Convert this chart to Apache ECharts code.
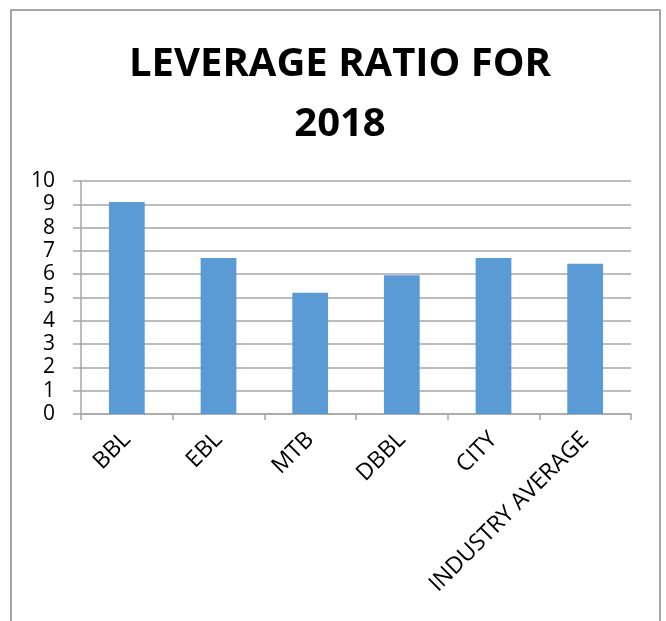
<!DOCTYPE html>
<html>
<head>
<meta charset="utf-8">
<script src="https://cdn.jsdelivr.net/npm/echarts@6/dist/echarts.min.js"></script>
<style>
html,body{margin:0;padding:0;background:#fff;}
#chart{width:666px;height:621px;}
</style>
</head>
<body>
<div id="chart"></div>
<script>
const titleLines = ['LEVERAGE RATIO FOR', '2018'];
const categories = ['BBL', 'EBL', 'MTB', 'DBBL', 'CITY', 'INDUSTRY AVERAGE'];
const values = [9.1, 6.7, 5.2, 5.95, 6.7, 6.45];
const yMin = 0, yMax = 10, yStep = 1;

const chart = echarts.init(document.getElementById('chart'), null, {renderer: 'canvas'});
chart.setOption({
  animation: false,
  backgroundColor: '#ffffff',
  graphic: [{
    type: 'rect',
    shape: {x: 11, y: 10, width: 649, height: 640},
    style: {fill: 'none', stroke: '#a6a6a6', lineWidth: 2},
    silent: true
  }],
  title: {
    text: titleLines.join('\n'),
    left: 335,
    textAlign: 'center',
    top: 30,
    textStyle: {
      fontFamily: 'Open Sans',
      fontWeight: 'bold',
      fontSize: 40,
      color: '#000000',
      lineHeight: 60
    }
  },
  grid: {left: 81, right: 35, top: 181, bottom: 207, containLabel: false},
  xAxis: {
    type: 'category',
    data: categories,
    boundaryGap: true,
    axisLine: {show: true, lineStyle: {color: '#a6a6a6', width: 1.5}},
    axisTick: {show: true, length: 6, alignWithLabel: false, lineStyle: {color: '#a6a6a6', width: 1.5}},
    axisLabel: {
      rotate: 45,
      margin: 22,
      interval: 0,
      fontFamily: 'Open Sans',
      fontSize: 23,
      color: '#000000'
    }
  },
  yAxis: {
    type: 'value',
    min: yMin,
    max: yMax,
    interval: yStep,
    axisLine: {show: true, lineStyle: {color: '#a6a6a6', width: 1.5}},
    axisTick: {show: true, length: 8, lineStyle: {color: '#a6a6a6', width: 1.5}},
    splitLine: {show: true, lineStyle: {color: '#a6a6a6', width: 1.5}},
    axisLabel: {
      margin: 26,
      fontFamily: 'Open Sans',
      fontSize: 21,
      color: '#000000'
    }
  },
  series: [{
    type: 'bar',
    data: values,
    barWidth: '39%',
    itemStyle: {color: '#5b9bd5'}
  }]
});
</script>
</body>
</html>
